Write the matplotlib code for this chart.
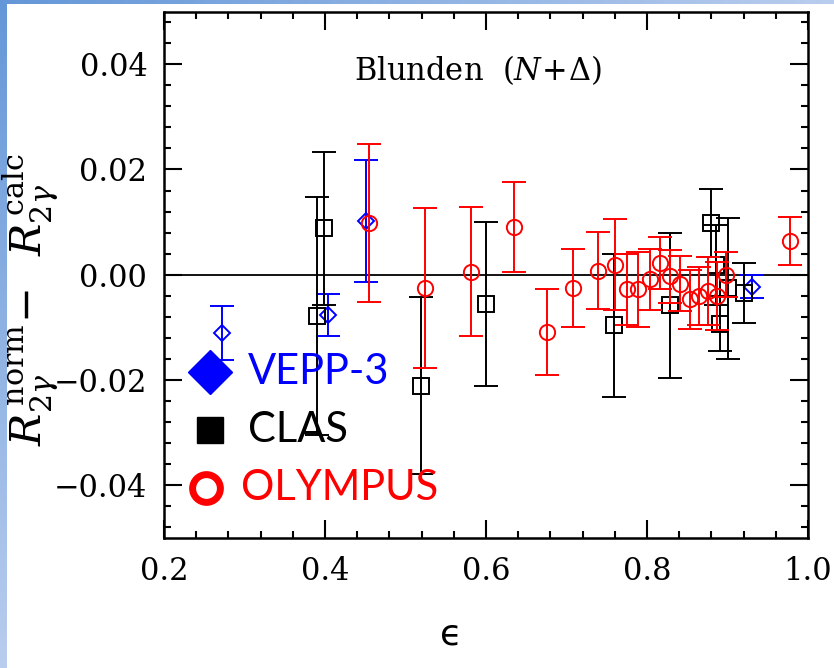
import numpy as np
import matplotlib
matplotlib.use('Agg')
import matplotlib.pyplot as plt
from matplotlib.colors import LinearSegmentedColormap

######## Data
### VEPP-3 (blue diamonds)
vepp_eps = [0.272, 0.404, 0.451, 0.930]
vepp_dR = [-0.0111, -0.0077, 0.0102, -0.0023]
vepp_err = [0.0051, 0.0040, 0.0116, 0.0022]

### CLAS (black squares)
clas_eps = [0.390, 0.399, 0.519, 0.600, 0.759, 0.829, 0.880, 0.886, 0.891, 0.901, 0.920]
clas_dR = [-0.0079, 0.0088, -0.0211, -0.0055, -0.0096, -0.0058, 0.0098, 0.0019, -0.0093, -0.0026, -0.0035]
clas_err = [0.0226, 0.0146, 0.0168, 0.0156, 0.0136, 0.0138, 0.0064, 0.0076, 0.0052, 0.0134, 0.0057]

### OLYMPUS (red circles)
olympus_eps = [0.455, 0.524, 0.581, 0.635, 0.676, 0.708, 0.739, 0.760, 0.775, 0.789,
               0.804, 0.816, 0.828, 0.841, 0.853, 0.865, 0.876, 0.887, 0.898, 0.978]
olympus_dR = [0.0098, -0.0026, 0.0006, 0.0091, -0.0109, -0.0025, 0.0008, 0.0019, -0.0028, -0.0028,
              -0.0009, 0.0022, -0.0003, -0.0017, -0.0047, -0.0040, -0.0031, -0.0040, 0.0000, 0.0064]
olympus_err = [0.0150, 0.0152, 0.0123, 0.0085, 0.0081, 0.0074, 0.0073, 0.0086, 0.0067, 0.0071,
               0.0058, 0.0050, 0.0050, 0.0052, 0.0056, 0.0055, 0.0065, 0.0064, 0.0043, 0.0046]

legend_labels = ['VEPP-3', 'CLAS', 'OLYMPUS']
legend_colors = ['blue', 'black', 'red']

x_ticks = [0.2, 0.4, 0.6, 0.8, 1.0]
y_ticks = [-0.04, -0.02, 0.00, 0.02, 0.04]

plt.rcParams['mathtext.fontset'] = 'dejavuserif'

fig = plt.figure(figsize=(8.34, 6.68), dpi=100)

### slide-style blue gradient strips (top and left)
cm = LinearSegmentedColormap.from_list('slide', ['#6497d8', '#b9cdee'])
ax_top = fig.add_axes([0, 1 - 4 / 668, 1, 4 / 668])
ax_top.imshow(np.linspace(0, 1, 256).reshape(1, -1), aspect='auto', cmap=cm)
ax_top.axis('off')
ax_left = fig.add_axes([0, 0, 7 / 834, 1])
ax_left.imshow(np.linspace(0, 0.8, 256).reshape(-1, 1), aspect='auto', cmap=cm)
ax_left.axis('off')

ax = fig.add_axes([164 / 834, 130 / 668, 644 / 834, 526.5 / 668])

ax.axhline(0, color='black', lw=1.3, zorder=1)

eb_kw = dict(ls='none', mfc='none', ms=11, mew=1.4, elinewidth=1.4, capsize=8.5, capthick=1.4)
ax.errorbar(vepp_eps, vepp_dR, yerr=vepp_err, fmt='D', color='blue', mec='blue',
            zorder=2, **{**eb_kw, 'ms': 8})
ax.errorbar(clas_eps, clas_dR, yerr=clas_err, fmt='s', color='black', mec='black',
            zorder=3, **eb_kw)
ax.errorbar(olympus_eps, olympus_dR, yerr=olympus_err, fmt='o', color='red', mec='red',
            zorder=4, **eb_kw)

ax.set_xlim(0.2, 1.0)
ax.set_ylim(-0.05, 0.05)
ax.set_xticks(x_ticks)
ax.set_yticks(y_ticks)
ax.set_xticks(np.arange(0.2, 1.0001, 0.04), minor=True)
ax.set_yticks(np.arange(-0.048, 0.0481, 0.004), minor=True)
ax.set_xticklabels(['%.1f' % t for t in x_ticks])
ax.set_yticklabels([('%.2f' % t).replace('-', '\u2212') if abs(t) > 1e-9 else '0.00' for t in y_ticks])
ax.tick_params(which='both', direction='in', top=True, right=True, width=1.5)
ax.tick_params(which='major', length=13, labelsize=22)
ax.tick_params(axis='x', which='major', pad=13)
ax.tick_params(axis='y', which='major', pad=12)
ax.tick_params(which='minor', length=5)
for lab in ax.get_xticklabels() + ax.get_yticklabels():
    lab.set_family('DejaVu Serif')
for s in ax.spines.values():
    s.set_linewidth(1.8)

### axis labels placed as free text to match the slide layout
ax.text(0.446, -0.184, '\u03f5', transform=ax.transAxes, ha='center', va='center',
        fontsize=26, family='DejaVu Sans')
ax.text(-0.207, 0.452, r'$R_{2\gamma}^{\,\mathrm{norm}}\!-\;\;R_{2\gamma}^{\,\mathrm{calc}}$',
        transform=ax.transAxes, ha='center', va='center', rotation=90, fontsize=31)

ax.text(0.488, 0.889, r'Blunden  $(N\!+\!\Delta)$', transform=ax.transAxes,
        ha='center', va='center', fontsize=22, family='DejaVu Serif')

### legend drawn as markers + coloured text
leg_y = [0.315, 0.205, 0.095]
leg_marker = ['D', 's', 'o']
for i in range(3):
    if leg_marker[i] == 'o':
        ax.plot([0.065], [leg_y[i]], 'o', transform=ax.transAxes, ms=20, mfc='none',
                mec=legend_colors[i], mew=5, clip_on=False, zorder=6)
    else:
        ax.plot([0.072], [leg_y[i]], leg_marker[i], transform=ax.transAxes,
                ms=22 if leg_marker[i] == 'D' else 19, color=legend_colors[i],
                clip_on=False, zorder=6)
    ax.text(0.13 if i != 2 else 0.12, leg_y[i], legend_labels[i], transform=ax.transAxes,
            ha='left', va='center', fontsize=30, family='Lato', color=legend_colors[i], zorder=6)

fig.savefig('out.png', dpi=100)
